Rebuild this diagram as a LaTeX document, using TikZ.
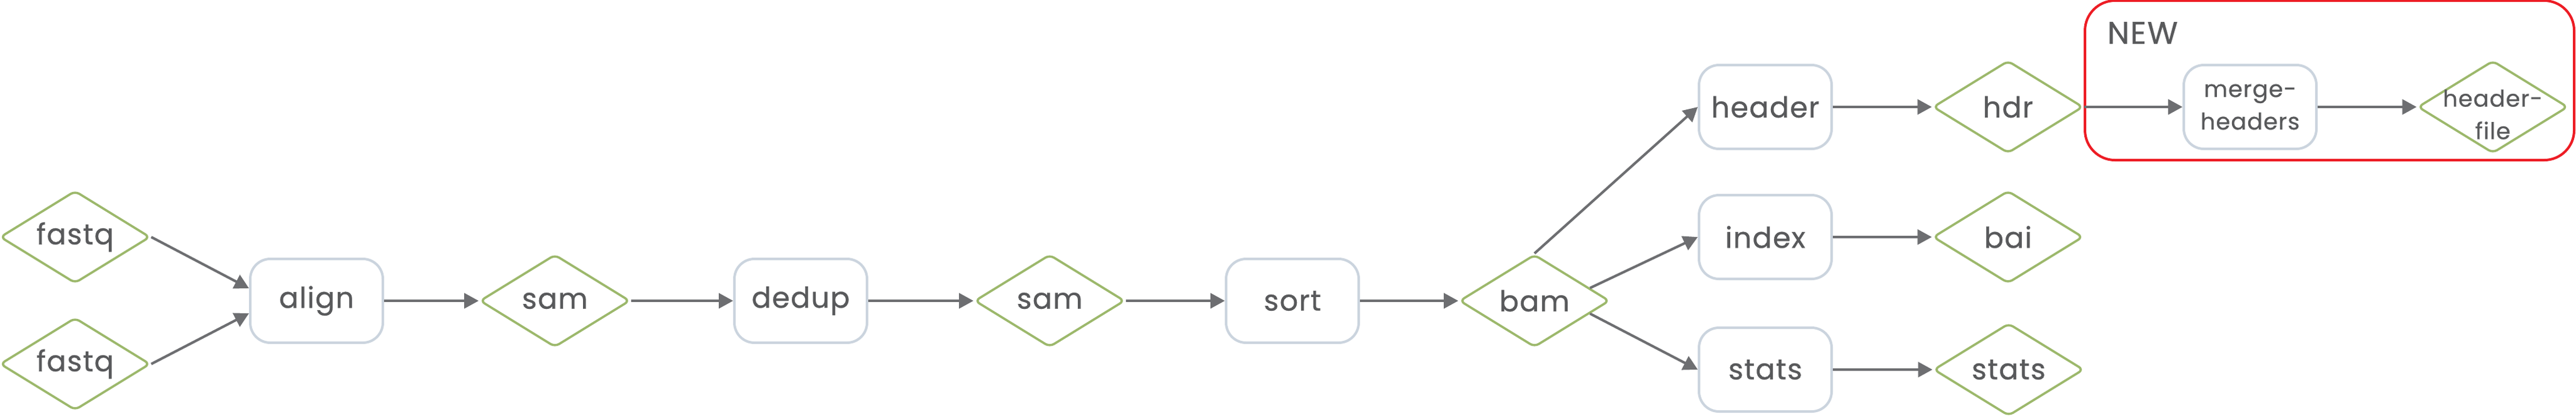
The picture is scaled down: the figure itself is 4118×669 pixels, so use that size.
\documentclass[tikz,border=0pt]{standalone}
\usepackage{fontspec}
\setmainfont{Poppins}[LetterSpace=3, FakeBold=0.6]
\usetikzlibrary{shapes.geometric,arrows.meta}
\definecolor{txtgray}{HTML}{58595B}
\definecolor{arrowgray}{HTML}{6D6E71}
\definecolor{datagreen}{HTML}{9CB86B}
\definecolor{boxgray}{HTML}{CBD4DE}
\definecolor{newred}{HTML}{ED1C24}
\newcommand\lblfont{\fontsize{11.5}{14}\selectfont}
\newcommand\smlfont{\fontsize{9.2}{13}\selectfont}
\begin{document}
\begin{tikzpicture}[x=0.25pt,y=-0.25pt,
  proc/.style={draw=boxgray, line width=1pt, rounded corners=8pt, minimum width=53pt, minimum height=33.5pt, inner sep=0pt, text=txtgray, font=\lblfont, align=center},
  data/.style={diamond, aspect=1.63, draw=datagreen, line width=0.9pt, rounded corners=2pt, minimum width=60pt, minimum height=37pt, inner sep=0pt, text=txtgray, font=\lblfont},
  flow/.style={draw=arrowgray, line width=1pt, -{Triangle[length=5.75pt,width=6pt]}},
]
\useasboundingbox (0,0) rectangle (4118,669);
% NEW group
\node[draw=newred, line width=1pt, rounded corners=12pt, minimum width=195.5pt, minimum height=63.75pt, inner sep=0pt] (newgrp) at (3724,128.5) {};
\node[anchor=base west, inner sep=0pt, text=txtgray, font=\fontsize{12.5}{15}\selectfont] (newlbl) at (3368,70) {NEW};
% nodes
\node[data] (fastq1) at (120,379) {fastq};
\node[data] (fastq2) at (120,582) {fastq};
\node[proc] (align) at (506,481) {align};
\node[data] (sam1) at (887,481) {sam};
\node[proc] (dedup) at (1280,481) {dedup};
\node[data] (sam2) at (1678,481) {sam};
\node[proc] (sort) at (2066,481) {sort};
\node[data] (bam) at (2453,481) {bam};
\node[proc] (header) at (2822,171) {header};
\node[proc] (index) at (2822,379) {index};
\node[proc] (statsb) at (2822,591) {stats};
\node[data] (hdr) at (3210,171) {hdr};
\node[data] (bai) at (3210,379) {bai};
\node[data] (statsd) at (3211,591) {stats};
\node[proc, font=\smlfont] (merge) at (3597,171) {merge-\\headers};
\node[data, label={[align=center, font=\smlfont, text=txtgray, inner sep=0pt, yshift=-3pt]center:{header-\\file}}] (hf) at (3985,171) {};
% connectors
\draw[flow] (fastq1.east) -- ([yshift=5pt]align.west);
\draw[flow] (fastq2.east) -- ([yshift=-5pt]align.west);
\draw[flow] (align.east) -- (sam1.west);
\draw[flow] (sam1.east) -- (dedup.west);
\draw[flow] (dedup.east) -- (sam2.west);
\draw[flow] (sam2.east) -- (sort.west);
\draw[flow] (sort.east) -- (bam.west);
\draw[flow] (bam.north) -- (header.west);
\draw[flow] (bam.13) -- (index.west);
\draw[flow] (bam.-13) -- (statsb.west);
\draw[flow] (header.east) -- (hdr.west);
\draw[flow] (index.east) -- (bai.west);
\draw[flow] (statsb.east) -- (statsd.west);
\draw[flow] (hdr.east) -- (merge.west);
\draw[flow] (merge.east) -- (hf.west);
\end{tikzpicture}
\end{document}
